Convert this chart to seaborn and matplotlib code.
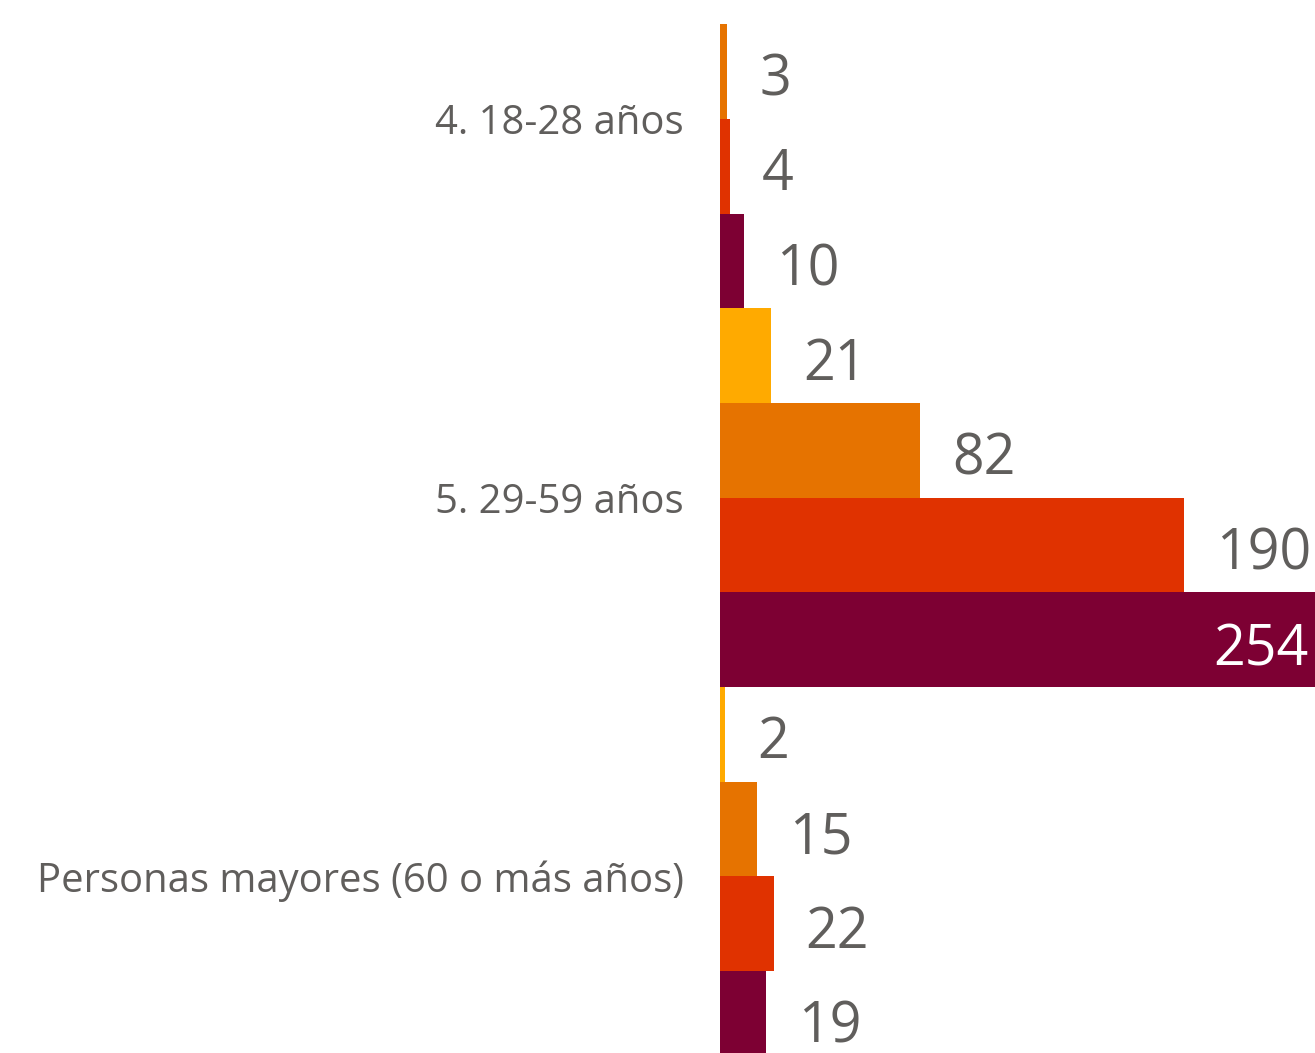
import numpy as np
import pandas as pd
import matplotlib.pyplot as plt
import seaborn as sns

# values (top group has no yellow bar)
groups = ['4. 18-28 años', '5. 29-59 años', 'Personas mayores (60 o más años)']
series = ['Serie 1', 'Serie 2', 'Serie 3', 'Serie 4']
vals_s1 = [np.nan, 21, 2]
vals_s2 = [3, 82, 15]
vals_s3 = [4, 190, 22]
vals_s4 = [10, 254, 19]
colors = ['#FFAA00', '#E67300', '#E03200', '#7D0033']

df = pd.DataFrame({
    'grupo': groups * 4,
    'serie': np.repeat(series, 3),
    'valor': vals_s1 + vals_s2 + vals_s3 + vals_s4,
})

sns.set_style('white')
plt.rcParams['font.family'] = ['Open Sans', 'DejaVu Sans']
text_col = '#605E5C'

fig = plt.figure(figsize=(13.15, 10.53), dpi=100)
ax = fig.add_axes([720 / 1315, 0, 595 / 1315, 1])

sns.barplot(data=df, x='valor', y='grupo', hue='serie', order=groups,
            hue_order=series, palette=colors, orient='h', width=1,
            saturation=1, legend=False, linewidth=0, ax=ax)

# the visible window is a crop of the full visual
xmax = 243.4
ax.set_xlim(0, xmax)
ax.set_ylim(2.467, -0.314)

for p in ax.patches:
    w = p.get_width()
    if not np.isfinite(w) or w <= 0:
        continue
    yc = p.get_y() + p.get_height() / 2
    lab = f'{int(round(w))}'
    if w > xmax * 0.9:
        ax.annotate(lab, (xmax, yc), xytext=(-5, -8), textcoords='offset points',
                    ha='right', va='center', fontsize=40, color='white')
    else:
        ax.annotate(lab, (w, yc), xytext=(23, -7), textcoords='offset points',
                    ha='left', va='center', fontsize=40, color=text_col)

ax.set_xlabel('')
ax.set_ylabel('')
ax.set_xticks([])
ax.tick_params(axis='y', length=0, pad=26, labelsize=28.8, labelcolor=text_col)
sns.despine(ax=ax, left=True, bottom=True)

plt.savefig('out.png', dpi=100)
